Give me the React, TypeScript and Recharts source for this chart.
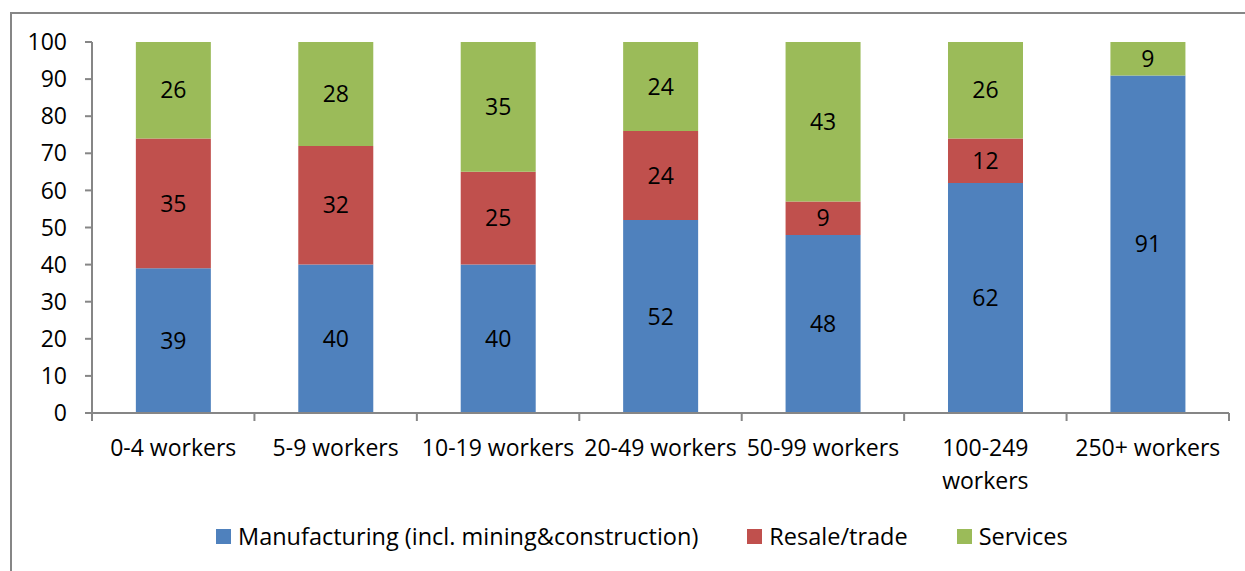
import * as React from "react";
import {
  Bar,
  BarChart,
  LabelList,
  Legend,
  XAxis,
  YAxis,
} from "recharts";

const categories = [
  "0-4 workers",
  "5-9 workers",
  "10-19 workers",
  "20-49 workers",
  "50-99 workers",
  "100-249 workers",
  "250+ workers",
];
const manufacturing = [39, 40, 40, 52, 48, 62, 91];
const resale = [35, 32, 25, 24, 9, 12, 0];
const services = [26, 28, 35, 24, 43, 26, 9];
const yTicks = [0, 10, 20, 30, 40, 50, 60, 70, 80, 90, 100];
// labels that Excel broke onto two lines
const wrappedLabels: Record<string, string[]> = {
  "100-249 workers": ["100-249", "workers"],
};

const series = [
  { key: "manufacturing", name: "Manufacturing (incl. mining&construction)", color: "#4F81BD" },
  { key: "resale", name: "Resale/trade", color: "#C0504D" },
  { key: "services", name: "Services", color: "#9BBB59" },
];

const data = categories.map((category, i) => ({
  category,
  manufacturing: manufacturing[i],
  resale: resale[i],
  services: services[i],
}));

const FONT = "'Open Sans', sans-serif";
const FONT_SIZE = 23;
const AXIS_GREY = "#868686";

function CategoryTick(props: any) {
  const { x, y, payload, index } = props;
  const half = payload?.offset ?? 0;
  const axisY = y - 8;
  const lines = wrappedLabels[payload.value] ?? [payload.value];
  return (
    <g>
      <line x1={x - half} x2={x - half} y1={axisY} y2={axisY + 8} stroke={AXIS_GREY} strokeWidth={2} />
      {index === categories.length - 1 ? (
        <line x1={x + half} x2={x + half} y1={axisY} y2={axisY + 8} stroke={AXIS_GREY} strokeWidth={2} />
      ) : null}
      <text x={x} y={axisY} textAnchor="middle" fill="#000" fontSize={FONT_SIZE} fontFamily={FONT}>
        {lines.map((line: string, i: number) => (
          <tspan key={line} x={x} dy={i === 0 ? 43 : 33}>
            {line}
          </tspan>
        ))}
      </text>
    </g>
  );
}

function LegendRow() {
  return (
    <div style={{ display: "flex", alignItems: "center", fontFamily: FONT, fontSize: 23.5, color: "#000", whiteSpace: "nowrap" }}>
      {series.map((s) => (
        <div key={s.key} style={{ display: "flex", alignItems: "center", marginRight: 49 }}>
          <span style={{ width: 15, height: 15, background: s.color, display: "inline-block", marginRight: 7 }} />
          <span>{s.name}</span>
        </div>
      ))}
    </div>
  );
}

export default function App() {
  return (
    <div style={{ position: "fixed", left: 0, top: 0, width: 1245, height: 571, overflow: "hidden", background: "#fff" }}>
      <div
        style={{
          position: "absolute",
          left: 10,
          top: 12,
          width: 1300,
          height: 700,
          border: `2px solid ${AXIS_GREY}`,
          boxSizing: "border-box",
        }}
      />
      <div style={{ position: "absolute", left: 0, top: 0 }}>
        <BarChart
          width={1245}
          height={571}
          data={data}
          margin={{ top: 42, right: 16, left: 0, bottom: 98 }}
          barCategoryGap="27%"
        >
          <XAxis
            dataKey="category"
            height={60}
            interval={0}
            tickSize={8}
            tickMargin={0}
            tickLine={false}
            axisLine={{ stroke: AXIS_GREY, strokeWidth: 2 }}
            tick={<CategoryTick />}
          />
          <YAxis
            width={92}
            domain={[0, 100]}
            ticks={yTicks}
            interval={0}
            tickSize={7}
            tickMargin={18}
            axisLine={{ stroke: AXIS_GREY, strokeWidth: 2 }}
            tickLine={{ stroke: AXIS_GREY, strokeWidth: 2 }}
            tick={{ fill: "#000", fontSize: FONT_SIZE, fontFamily: FONT }}
          />
          <Legend
            layout="vertical"
            align="center"
            verticalAlign="middle"
            wrapperStyle={{ top: 520, left: 216, width: 1020, height: 32 }}
            content={() => <LegendRow />}
          />
          {series.map((s) => (
            <Bar
              key={s.key}
              dataKey={s.key}
              name={s.name}
              stackId="a"
              fill={s.color}
              isAnimationActive={false}
            >
              <LabelList
                dataKey={s.key}
                position="center"
                fill="#000"
                fontSize={FONT_SIZE}
                fontFamily={FONT}
                formatter={(v: any) => (v ? v : "")}
              />
            </Bar>
          ))}
        </BarChart>
      </div>
    </div>
  );
}
